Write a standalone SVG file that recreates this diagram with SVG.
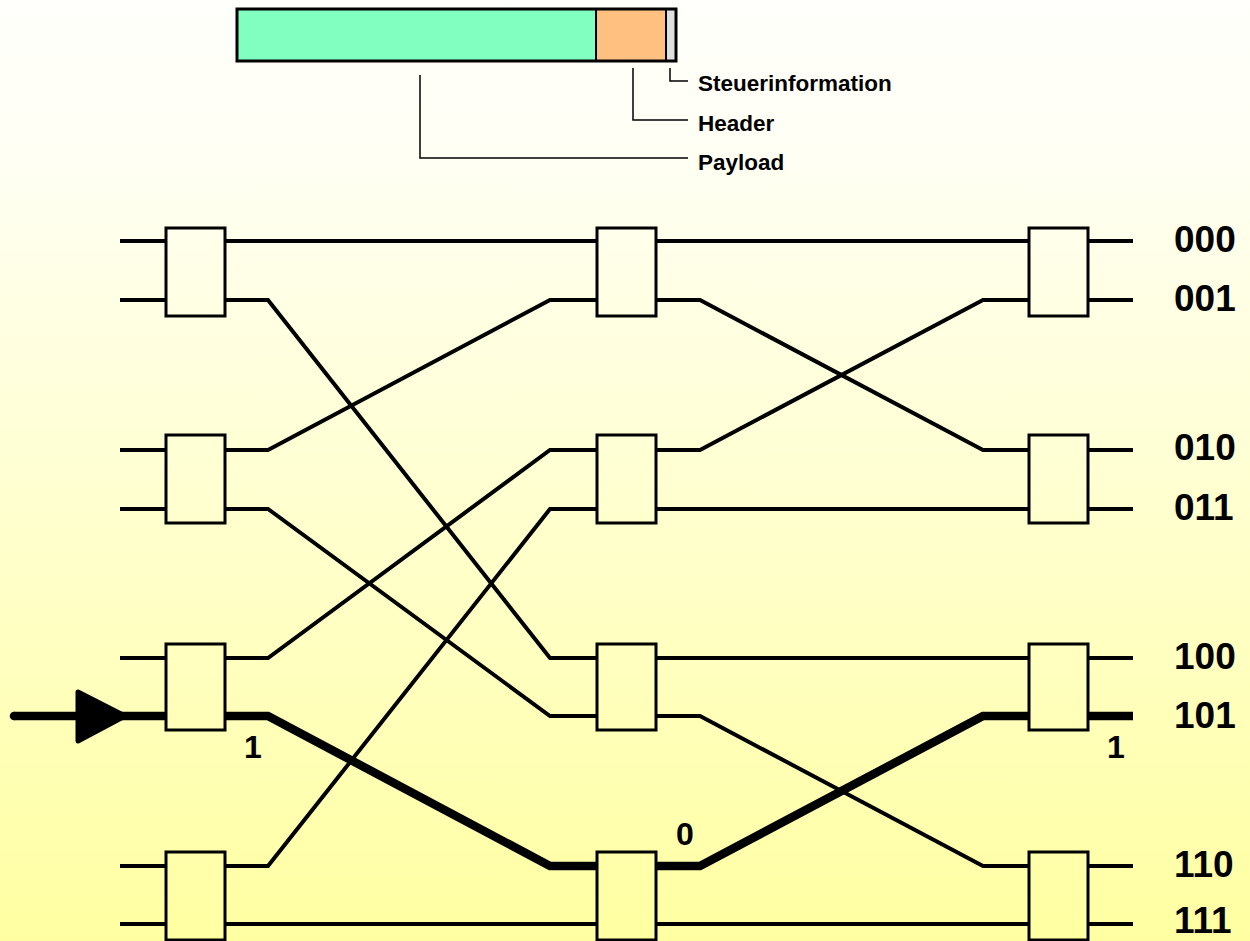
<svg xmlns="http://www.w3.org/2000/svg" width="1250" height="941" viewBox="0 0 1250 941">
  <defs>
    <linearGradient id="bg" x1="0" y1="0" x2="0" y2="1">
      <stop offset="0" stop-color="#FFFFFB"/>
      <stop offset="0.15" stop-color="#FFFFF5"/>
      <stop offset="1" stop-color="#FFFFA2"/>
    </linearGradient>
    <style>
      .box { fill: none; stroke: #000; stroke-width: 3; }
      .wire { fill: none; stroke: #000; stroke-width: 4; stroke-linejoin: miter; }
      .path { fill: none; stroke: #000; stroke-width: 8.5; }
      .lead { fill: none; stroke: #000; stroke-width: 1.5; }
      .lbl { font-family: "Liberation Sans", Arial, sans-serif; font-weight: bold; fill: #000; }
      .small { font-size: 22.5px; }
      .addr { font-size: 37px; }
      .bit { font-size: 32px; text-anchor: middle; }
    </style>
  </defs>

  <rect x="0" y="0" width="1250" height="941" fill="url(#bg)"/>

  <!-- packet layout -->
  <g id="packet">
    <rect x="237" y="9" width="359" height="52" fill="#80FFC0"/>
    <rect x="596" y="9" width="70" height="52" fill="#FFC080"/>
    <rect x="666" y="9" width="10" height="52" fill="#E0E0E0"/>
    <line x1="596" y1="9" x2="596" y2="61" stroke="#000" stroke-width="2"/>
    <line x1="666" y1="9" x2="666" y2="61" stroke="#000" stroke-width="2"/>
    <rect x="237" y="9" width="439" height="52" fill="none" stroke="#000" stroke-width="3"/>
  </g>
  <g id="packet-labels">
    <path class="lead" d="M670,68 V81 H688"/>
    <path class="lead" d="M633,68 V120 H688"/>
    <path class="lead" d="M420,75 V158 H688"/>
    <text class="lbl small" x="698" y="91">Steuerinformation</text>
    <text class="lbl small" x="698" y="131">Header</text>
    <text class="lbl small" x="698" y="170">Payload</text>
  </g>

  <!-- connectors -->
  <g id="connectors">
    <!-- inputs to stage 1 -->
    <path class="wire" d="M120,241 H166 M120,300 H166 M120,450 H166 M120,509 H166 M120,658 H166 M120,866 H166 M120,924 H166"/>
    <!-- stage 1 to stage 2 -->
    <path class="wire" d="M225,241 H597"/>
    <path class="wire" d="M225,300 H268 L550,658 H597"/>
    <path class="wire" d="M225,450 H268 L550,300 H597"/>
    <path class="wire" d="M225,509 H268 L550,716 H597"/>
    <path class="wire" d="M225,658 H268 L550,450 H597"/>
    <path class="wire" d="M225,866 H268 L550,509 H597"/>
    <path class="wire" d="M225,924 H597"/>
    <!-- stage 2 to stage 3 -->
    <path class="wire" d="M656,241 H1029"/>
    <path class="wire" d="M656,300 H700 L983,450 H1029"/>
    <path class="wire" d="M656,450 H700 L983,300 H1029"/>
    <path class="wire" d="M656,509 H1029"/>
    <path class="wire" d="M656,658 H1029"/>
    <path class="wire" d="M656,716 H700 L983,866 H1029"/>
    <path class="wire" d="M656,924 H1029"/>
    <!-- outputs -->
    <path class="wire" d="M1088,241 H1133 M1088,300 H1133 M1088,450 H1133 M1088,509 H1133 M1088,658 H1133 M1088,866 H1133 M1088,924 H1133"/>
    <!-- routed path 101 -->
    <circle cx="14" cy="716" r="4.25" fill="#000"/>
    <path class="path" d="M14,716 H166"/>
    <path class="path" d="M225,716 H268 L550,866 H597"/>
    <path class="path" d="M656,866 H700 L983,716 H1029"/>
    <path class="path" d="M1088,716 H1133"/>
    <polygon points="78,692 125,716 78,741" fill="#000" stroke="#000" stroke-width="5" stroke-linejoin="round"/>
  </g>

  <!-- stage 1 switches -->
  <g id="s1-0"><rect class="box" x="166" y="228" width="59" height="88"/></g>
  <g id="s1-1"><rect class="box" x="166" y="435" width="59" height="88"/></g>
  <g id="s1-2"><rect class="box" x="166" y="644" width="59" height="86"/></g>
  <g id="s1-3"><rect class="box" x="166" y="852" width="59" height="88"/></g>
  <!-- stage 2 switches -->
  <g id="s2-0"><rect class="box" x="597" y="228" width="59" height="88"/></g>
  <g id="s2-1"><rect class="box" x="597" y="435" width="59" height="88"/></g>
  <g id="s2-2"><rect class="box" x="597" y="644" width="59" height="86"/></g>
  <g id="s2-3"><rect class="box" x="597" y="852" width="59" height="88"/></g>
  <!-- stage 3 switches -->
  <g id="s3-0"><rect class="box" x="1029" y="228" width="59" height="88"/></g>
  <g id="s3-1"><rect class="box" x="1029" y="435" width="59" height="88"/></g>
  <g id="s3-2"><rect class="box" x="1029" y="644" width="59" height="86"/></g>
  <g id="s3-3"><rect class="box" x="1029" y="852" width="59" height="88"/></g>

  <!-- routing bits -->
  <g id="bits">
    <text class="lbl bit" x="253" y="758">1</text>
    <text class="lbl bit" x="685" y="845">0</text>
    <text class="lbl bit" x="1116" y="758">1</text>
  </g>

  <!-- output addresses -->
  <g id="addresses">
    <text class="lbl addr" x="1174" y="252">000</text>
    <text class="lbl addr" x="1174" y="311">001</text>
    <text class="lbl addr" x="1174" y="460">010</text>
    <text class="lbl addr" x="1174" y="520">011</text>
    <text class="lbl addr" x="1174" y="669">100</text>
    <text class="lbl addr" x="1174" y="728">101</text>
    <text class="lbl addr" x="1174" y="877">110</text>
    <text class="lbl addr" x="1174" y="933">111</text>
  </g>
</svg>
